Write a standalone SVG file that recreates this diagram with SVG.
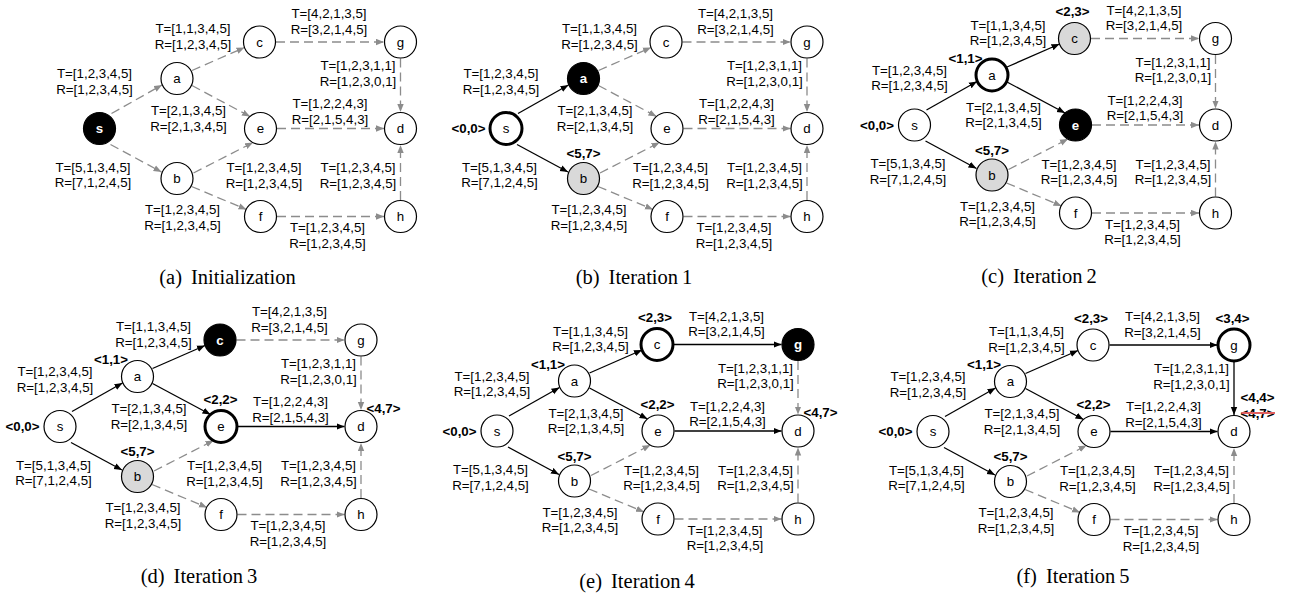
<svg xmlns="http://www.w3.org/2000/svg" width="1289" height="600" viewBox="0 0 1289 600">
<style>
  .lbl { font-family: "Liberation Sans", Arial, sans-serif; font-size: 13.3px; text-anchor: middle; fill: #000; }
  .val { font-family: "Liberation Sans", Arial, sans-serif; font-size: 13px; font-weight: bold; text-anchor: middle; fill: #000; }
  .cap { font-family: "Liberation Serif", "Times New Roman", serif; font-size: 20.5px; text-anchor: middle; fill: #000; }
  .nd circle { fill: #fff; stroke: #000; stroke-width: 1.2; }
  .nd text { font-family: "Liberation Sans", Arial, sans-serif; font-size: 13.3px; text-anchor: middle; fill: #000; }
  .nd.cur circle { stroke-width: 3; }
  .nd.done circle { fill: #000; }
  .nd.done text { fill: #fff; font-weight: bold; }
  .nd.cand circle { fill: #d9d9d9; }
  .dash { fill: none; stroke: #8c8c8c; stroke-width: 1.3; stroke-dasharray: 9 5; marker-end: url(#arrGray); }
  .solid { fill: none; stroke: #000; stroke-width: 1.3; marker-end: url(#arrBlack); }
  .strike { stroke: #e06060; stroke-width: 2; }
</style>
<defs>
  <marker id="arrGray" markerUnits="userSpaceOnUse" markerWidth="9" markerHeight="8" refX="8" refY="3.5" orient="auto">
    <path d="M0,0.3 L8,3.5 L0,6.7 z" fill="#8c8c8c"/>
  </marker>
  <marker id="arrBlack" markerUnits="userSpaceOnUse" markerWidth="9" markerHeight="8" refX="8" refY="3.5" orient="auto">
    <path d="M0,0.3 L8,3.5 L0,6.7 z" fill="#000"/>
  </marker>
</defs>

<!-- ===== (a) Initialization ===== -->
<g id="panel-a">
  <g id="a-connectors">
    <path class="dash" d="M111.5,113.5 L162,85"/>
    <path class="dash" d="M192,70.5 L244.5,47.5"/>
    <path class="dash" d="M192,85.5 L250,116.5"/>
    <path class="dash" d="M276,42 L384,42"/>
    <path class="dash" d="M400.5,58.5 L400.5,112"/>
    <path class="dash" d="M277,128.5 L384,128.5"/>
    <path class="dash" d="M110.5,144.5 L161.5,172"/>
    <path class="dash" d="M193.5,173 L253,142.5"/>
    <path class="dash" d="M191.5,186.5 L246.5,209.5"/>
    <path class="dash" d="M277,216.5 L384,216.5"/>
    <path class="dash" d="M400.5,200 L400.5,145"/>
    <text class="lbl" x="94.5" y="78">T=[1,2,3,4,5]<tspan x="94.5" dy="15.5">R=[1,2,3,4,5]</tspan></text>
    <text class="lbl" x="193" y="33">T=[1,1,3,4,5]<tspan x="193" dy="15.5">R=[1,2,3,4,5]</tspan></text>
    <text class="lbl" x="188.5" y="115">T=[2,1,3,4,5]<tspan x="188.5" dy="15.5">R=[2,1,3,4,5]</tspan></text>
    <text class="lbl" x="329" y="18">T=[4,2,1,3,5]<tspan x="329" dy="15.5">R=[3,2,1,4,5]</tspan></text>
    <text class="lbl" x="358" y="70">T=[1,2,3,1,1]<tspan x="358" dy="15.5">R=[1,2,3,0,1]</tspan></text>
    <text class="lbl" x="330" y="108">T=[1,2,2,4,3]<tspan x="330" dy="15.5">R=[2,1,5,4,3]</tspan></text>
    <text class="lbl" x="93" y="171.5">T=[5,1,3,4,5]<tspan x="93" dy="15.5">R=[7,1,2,4,5]</tspan></text>
    <text class="lbl" x="264" y="172">T=[1,2,3,4,5]<tspan x="264" dy="15.5">R=[1,2,3,4,5]</tspan></text>
    <text class="lbl" x="358" y="172">T=[1,2,3,4,5]<tspan x="358" dy="15.5">R=[1,2,3,4,5]</tspan></text>
    <text class="lbl" x="182.5" y="214">T=[1,2,3,4,5]<tspan x="182.5" dy="15.5">R=[1,2,3,4,5]</tspan></text>
    <text class="lbl" x="327.5" y="232">T=[1,2,3,4,5]<tspan x="327.5" dy="15.5">R=[1,2,3,4,5]</tspan></text>
  </g>
  <g id="a-s" class="nd done"><circle cx="99.5" cy="128.5" r="16"/><text x="99.5" y="133">s</text></g>
  <g id="a-a" class="nd"><circle cx="177" cy="78.5" r="16"/><text x="177" y="83">a</text></g>
  <g id="a-b" class="nd"><circle cx="177" cy="178.5" r="16"/><text x="177" y="183">b</text></g>
  <g id="a-c" class="nd"><circle cx="259.5" cy="42" r="16"/><text x="259.5" y="46.5">c</text></g>
  <g id="a-e" class="nd"><circle cx="260.5" cy="128.5" r="16"/><text x="260.5" y="133">e</text></g>
  <g id="a-f" class="nd"><circle cx="260.5" cy="216.5" r="16"/><text x="260.5" y="221">f</text></g>
  <g id="a-g" class="nd"><circle cx="400.5" cy="42" r="16"/><text x="400.5" y="46.5">g</text></g>
  <g id="a-d" class="nd"><circle cx="400.5" cy="128.5" r="16"/><text x="400.5" y="133">d</text></g>
  <g id="a-h" class="nd"><circle cx="400.5" cy="216.5" r="16"/><text x="400.5" y="221">h</text></g>
</g>
<text class="cap" x="227.5" y="284">(a)<tspan dx="9">Initialization</tspan></text>

<!-- ===== (b) Iteration 1 ===== -->
<g id="panel-b" transform="translate(406.5,0)">
  <g id="b-connectors">
    <path class="solid" d="M111.5,113.5 L162,85"/>
    <path class="dash" d="M192,70.5 L244.5,47.5"/>
    <path class="dash" d="M192,85.5 L250,116.5"/>
    <path class="dash" d="M276,42 L384,42"/>
    <path class="dash" d="M400.5,58.5 L400.5,112"/>
    <path class="dash" d="M277,128.5 L384,128.5"/>
    <path class="solid" d="M110.5,144.5 L161.5,172"/>
    <path class="dash" d="M193.5,173 L253,142.5"/>
    <path class="dash" d="M191.5,186.5 L246.5,209.5"/>
    <path class="dash" d="M277,216.5 L384,216.5"/>
    <path class="dash" d="M400.5,200 L400.5,145"/>
    <text class="lbl" x="94.5" y="78">T=[1,2,3,4,5]<tspan x="94.5" dy="15.5">R=[1,2,3,4,5]</tspan></text>
    <text class="lbl" x="193" y="33">T=[1,1,3,4,5]<tspan x="193" dy="15.5">R=[1,2,3,4,5]</tspan></text>
    <text class="lbl" x="188.5" y="115">T=[2,1,3,4,5]<tspan x="188.5" dy="15.5">R=[2,1,3,4,5]</tspan></text>
    <text class="lbl" x="329" y="18">T=[4,2,1,3,5]<tspan x="329" dy="15.5">R=[3,2,1,4,5]</tspan></text>
    <text class="lbl" x="358" y="70">T=[1,2,3,1,1]<tspan x="358" dy="15.5">R=[1,2,3,0,1]</tspan></text>
    <text class="lbl" x="330" y="108">T=[1,2,2,4,3]<tspan x="330" dy="15.5">R=[2,1,5,4,3]</tspan></text>
    <text class="lbl" x="93" y="171.5">T=[5,1,3,4,5]<tspan x="93" dy="15.5">R=[7,1,2,4,5]</tspan></text>
    <text class="lbl" x="264" y="172">T=[1,2,3,4,5]<tspan x="264" dy="15.5">R=[1,2,3,4,5]</tspan></text>
    <text class="lbl" x="358" y="172">T=[1,2,3,4,5]<tspan x="358" dy="15.5">R=[1,2,3,4,5]</tspan></text>
    <text class="lbl" x="182.5" y="214">T=[1,2,3,4,5]<tspan x="182.5" dy="15.5">R=[1,2,3,4,5]</tspan></text>
    <text class="lbl" x="327.5" y="232">T=[1,2,3,4,5]<tspan x="327.5" dy="15.5">R=[1,2,3,4,5]</tspan></text>
  </g>
  <g id="b-s" class="nd cur"><circle cx="99.5" cy="128.5" r="16"/><text x="99.5" y="133">s</text><text class="val" x="62" y="133">&lt;0,0&gt;</text></g>
  <g id="b-a" class="nd done"><circle cx="177" cy="78.5" r="16"/><text x="177" y="83">a</text><text class="val" x="150.5" y="66">&lt;1,1&gt;</text></g>
  <g id="b-b" class="nd cand"><circle cx="177" cy="178.5" r="16"/><text x="177" y="183">b</text><text class="val" x="177" y="158">&lt;5,7&gt;</text></g>
  <g id="b-c" class="nd"><circle cx="259.5" cy="42" r="16"/><text x="259.5" y="46.5">c</text></g>
  <g id="b-e" class="nd"><circle cx="260.5" cy="128.5" r="16"/><text x="260.5" y="133">e</text></g>
  <g id="b-f" class="nd"><circle cx="260.5" cy="216.5" r="16"/><text x="260.5" y="221">f</text></g>
  <g id="b-g" class="nd"><circle cx="400.5" cy="42" r="16"/><text x="400.5" y="46.5">g</text></g>
  <g id="b-d" class="nd"><circle cx="400.5" cy="128.5" r="16"/><text x="400.5" y="133">d</text></g>
  <g id="b-h" class="nd"><circle cx="400.5" cy="216.5" r="16"/><text x="400.5" y="221">h</text></g>
</g>
<text class="cap" x="634" y="284">(b)<tspan dx="9">Iteration</tspan><tspan dx="4">1</tspan></text>

<!-- ===== (c) Iteration 2 ===== -->
<g id="panel-c" transform="translate(815,-3.5)">
  <g id="c-connectors">
    <path class="solid" d="M111.5,113.5 L162,85"/>
    <path class="solid" d="M192,70.5 L244.5,47.5"/>
    <path class="solid" d="M192,85.5 L250,116.5"/>
    <path class="dash" d="M276,42 L384,42"/>
    <path class="dash" d="M400.5,58.5 L400.5,112"/>
    <path class="dash" d="M277,128.5 L384,128.5"/>
    <path class="solid" d="M110.5,144.5 L161.5,172"/>
    <path class="dash" d="M193.5,173 L253,142.5"/>
    <path class="dash" d="M191.5,186.5 L246.5,209.5"/>
    <path class="dash" d="M277,216.5 L384,216.5"/>
    <path class="dash" d="M400.5,200 L400.5,145"/>
    <text class="lbl" x="94.5" y="78">T=[1,2,3,4,5]<tspan x="94.5" dy="15.5">R=[1,2,3,4,5]</tspan></text>
    <text class="lbl" x="193" y="33">T=[1,1,3,4,5]<tspan x="193" dy="15.5">R=[1,2,3,4,5]</tspan></text>
    <text class="lbl" x="188.5" y="115">T=[2,1,3,4,5]<tspan x="188.5" dy="15.5">R=[2,1,3,4,5]</tspan></text>
    <text class="lbl" x="329" y="18">T=[4,2,1,3,5]<tspan x="329" dy="15.5">R=[3,2,1,4,5]</tspan></text>
    <text class="lbl" x="358" y="70">T=[1,2,3,1,1]<tspan x="358" dy="15.5">R=[1,2,3,0,1]</tspan></text>
    <text class="lbl" x="330" y="108">T=[1,2,2,4,3]<tspan x="330" dy="15.5">R=[2,1,5,4,3]</tspan></text>
    <text class="lbl" x="93" y="171.5">T=[5,1,3,4,5]<tspan x="93" dy="15.5">R=[7,1,2,4,5]</tspan></text>
    <text class="lbl" x="264" y="172">T=[1,2,3,4,5]<tspan x="264" dy="15.5">R=[1,2,3,4,5]</tspan></text>
    <text class="lbl" x="358" y="172">T=[1,2,3,4,5]<tspan x="358" dy="15.5">R=[1,2,3,4,5]</tspan></text>
    <text class="lbl" x="182.5" y="214">T=[1,2,3,4,5]<tspan x="182.5" dy="15.5">R=[1,2,3,4,5]</tspan></text>
    <text class="lbl" x="327.5" y="232">T=[1,2,3,4,5]<tspan x="327.5" dy="15.5">R=[1,2,3,4,5]</tspan></text>
  </g>
  <g id="c-s" class="nd"><circle cx="99.5" cy="128.5" r="16"/><text x="99.5" y="133">s</text><text class="val" x="62" y="133">&lt;0,0&gt;</text></g>
  <g id="c-a" class="nd cur"><circle cx="177" cy="78.5" r="16"/><text x="177" y="83">a</text><text class="val" x="150.5" y="66">&lt;1,1&gt;</text></g>
  <g id="c-b" class="nd cand"><circle cx="177" cy="178.5" r="16"/><text x="177" y="183">b</text><text class="val" x="177" y="158">&lt;5,7&gt;</text></g>
  <g id="c-c" class="nd cand"><circle cx="259.5" cy="42" r="16"/><text x="259.5" y="46.5">c</text><text class="val" x="257.5" y="19.5">&lt;2,3&gt;</text></g>
  <g id="c-e" class="nd done"><circle cx="260.5" cy="128.5" r="16"/><text x="260.5" y="133">e</text><text class="val" x="260" y="106">&lt;2,2&gt;</text></g>
  <g id="c-f" class="nd"><circle cx="260.5" cy="216.5" r="16"/><text x="260.5" y="221">f</text></g>
  <g id="c-g" class="nd"><circle cx="400.5" cy="42" r="16"/><text x="400.5" y="46.5">g</text></g>
  <g id="c-d" class="nd"><circle cx="400.5" cy="128.5" r="16"/><text x="400.5" y="133">d</text></g>
  <g id="c-h" class="nd"><circle cx="400.5" cy="216.5" r="16"/><text x="400.5" y="221">h</text></g>
</g>
<text class="cap" x="1039" y="283">(c)<tspan dx="9">Iteration</tspan><tspan dx="4">2</tspan></text>

<!-- ===== (d) Iteration 3 ===== -->
<g id="panel-d" transform="translate(-39.5,298)">
  <g id="d-connectors">
    <path class="solid" d="M111.5,113.5 L162,85"/>
    <path class="solid" d="M192,70.5 L244.5,47.5"/>
    <path class="solid" d="M192,85.5 L250,116.5"/>
    <path class="dash" d="M276,42 L384,42"/>
    <path class="dash" d="M400.5,58.5 L400.5,112"/>
    <path class="solid" d="M277,128.5 L384,128.5"/>
    <path class="solid" d="M110.5,144.5 L161.5,172"/>
    <path class="dash" d="M193.5,173 L253,142.5"/>
    <path class="dash" d="M191.5,186.5 L246.5,209.5"/>
    <path class="dash" d="M277,216.5 L384,216.5"/>
    <path class="dash" d="M400.5,200 L400.5,145"/>
    <text class="lbl" x="94.5" y="78">T=[1,2,3,4,5]<tspan x="94.5" dy="15.5">R=[1,2,3,4,5]</tspan></text>
    <text class="lbl" x="193" y="33">T=[1,1,3,4,5]<tspan x="193" dy="15.5">R=[1,2,3,4,5]</tspan></text>
    <text class="lbl" x="188.5" y="115">T=[2,1,3,4,5]<tspan x="188.5" dy="15.5">R=[2,1,3,4,5]</tspan></text>
    <text class="lbl" x="329" y="18">T=[4,2,1,3,5]<tspan x="329" dy="15.5">R=[3,2,1,4,5]</tspan></text>
    <text class="lbl" x="358" y="70">T=[1,2,3,1,1]<tspan x="358" dy="15.5">R=[1,2,3,0,1]</tspan></text>
    <text class="lbl" x="330" y="108">T=[1,2,2,4,3]<tspan x="330" dy="15.5">R=[2,1,5,4,3]</tspan></text>
    <text class="lbl" x="93" y="171.5">T=[5,1,3,4,5]<tspan x="93" dy="15.5">R=[7,1,2,4,5]</tspan></text>
    <text class="lbl" x="264" y="172">T=[1,2,3,4,5]<tspan x="264" dy="15.5">R=[1,2,3,4,5]</tspan></text>
    <text class="lbl" x="358" y="172">T=[1,2,3,4,5]<tspan x="358" dy="15.5">R=[1,2,3,4,5]</tspan></text>
    <text class="lbl" x="182.5" y="214">T=[1,2,3,4,5]<tspan x="182.5" dy="15.5">R=[1,2,3,4,5]</tspan></text>
    <text class="lbl" x="327.5" y="232">T=[1,2,3,4,5]<tspan x="327.5" dy="15.5">R=[1,2,3,4,5]</tspan></text>
  </g>
  <g id="d-s" class="nd"><circle cx="99.5" cy="128.5" r="16"/><text x="99.5" y="133">s</text><text class="val" x="62" y="133">&lt;0,0&gt;</text></g>
  <g id="d-a" class="nd"><circle cx="177" cy="78.5" r="16"/><text x="177" y="83">a</text><text class="val" x="150.5" y="66">&lt;1,1&gt;</text></g>
  <g id="d-b" class="nd cand"><circle cx="177" cy="178.5" r="16"/><text x="177" y="183">b</text><text class="val" x="177" y="158">&lt;5,7&gt;</text></g>
  <g id="d-c" class="nd done"><circle cx="259.5" cy="42" r="16"/><text x="259.5" y="46.5">c</text><text class="val" x="257.5" y="19.5">&lt;2,3&gt;</text></g>
  <g id="d-e" class="nd cur"><circle cx="260.5" cy="128.5" r="16"/><text x="260.5" y="133">e</text><text class="val" x="260" y="106">&lt;2,2&gt;</text></g>
  <g id="d-f" class="nd"><circle cx="260.5" cy="216.5" r="16"/><text x="260.5" y="221">f</text></g>
  <g id="d-g" class="nd"><circle cx="400.5" cy="42" r="16"/><text x="400.5" y="46.5">g</text></g>
  <g id="d-d" class="nd"><circle cx="400.5" cy="128.5" r="16"/><text x="400.5" y="133">d</text><text class="val" x="423" y="114.5">&lt;4,7&gt;</text></g>
  <g id="d-h" class="nd"><circle cx="400.5" cy="216.5" r="16"/><text x="400.5" y="221">h</text></g>
</g>
<text class="cap" x="199" y="583">(d)<tspan dx="9">Iteration</tspan><tspan dx="4">3</tspan></text>

<!-- ===== (e) Iteration 4 ===== -->
<g id="panel-e" transform="translate(397.5,302.5)">
  <g id="e-connectors">
    <path class="solid" d="M111.5,113.5 L162,85"/>
    <path class="solid" d="M192,70.5 L244.5,47.5"/>
    <path class="solid" d="M192,85.5 L250,116.5"/>
    <path class="solid" d="M276,42 L384,42"/>
    <path class="dash" d="M400.5,58.5 L400.5,112"/>
    <path class="solid" d="M277,128.5 L384,128.5"/>
    <path class="solid" d="M110.5,144.5 L161.5,172"/>
    <path class="dash" d="M193.5,173 L253,142.5"/>
    <path class="dash" d="M191.5,186.5 L246.5,209.5"/>
    <path class="dash" d="M277,216.5 L384,216.5"/>
    <path class="dash" d="M400.5,200 L400.5,145"/>
    <text class="lbl" x="94.5" y="78">T=[1,2,3,4,5]<tspan x="94.5" dy="15.5">R=[1,2,3,4,5]</tspan></text>
    <text class="lbl" x="193" y="33">T=[1,1,3,4,5]<tspan x="193" dy="15.5">R=[1,2,3,4,5]</tspan></text>
    <text class="lbl" x="188.5" y="115">T=[2,1,3,4,5]<tspan x="188.5" dy="15.5">R=[2,1,3,4,5]</tspan></text>
    <text class="lbl" x="329" y="18">T=[4,2,1,3,5]<tspan x="329" dy="15.5">R=[3,2,1,4,5]</tspan></text>
    <text class="lbl" x="358" y="70">T=[1,2,3,1,1]<tspan x="358" dy="15.5">R=[1,2,3,0,1]</tspan></text>
    <text class="lbl" x="330" y="108">T=[1,2,2,4,3]<tspan x="330" dy="15.5">R=[2,1,5,4,3]</tspan></text>
    <text class="lbl" x="93" y="171.5">T=[5,1,3,4,5]<tspan x="93" dy="15.5">R=[7,1,2,4,5]</tspan></text>
    <text class="lbl" x="264" y="172">T=[1,2,3,4,5]<tspan x="264" dy="15.5">R=[1,2,3,4,5]</tspan></text>
    <text class="lbl" x="358" y="172">T=[1,2,3,4,5]<tspan x="358" dy="15.5">R=[1,2,3,4,5]</tspan></text>
    <text class="lbl" x="182.5" y="214">T=[1,2,3,4,5]<tspan x="182.5" dy="15.5">R=[1,2,3,4,5]</tspan></text>
    <text class="lbl" x="327.5" y="232">T=[1,2,3,4,5]<tspan x="327.5" dy="15.5">R=[1,2,3,4,5]</tspan></text>
  </g>
  <g id="e-s" class="nd"><circle cx="99.5" cy="128.5" r="16"/><text x="99.5" y="133">s</text><text class="val" x="62" y="133">&lt;0,0&gt;</text></g>
  <g id="e-a" class="nd"><circle cx="177" cy="78.5" r="16"/><text x="177" y="83">a</text><text class="val" x="150.5" y="66">&lt;1,1&gt;</text></g>
  <g id="e-b" class="nd"><circle cx="177" cy="178.5" r="16"/><text x="177" y="183">b</text><text class="val" x="177" y="158">&lt;5,7&gt;</text></g>
  <g id="e-c" class="nd cur"><circle cx="259.5" cy="42" r="16"/><text x="259.5" y="46.5">c</text><text class="val" x="257.5" y="19.5">&lt;2,3&gt;</text></g>
  <g id="e-e" class="nd"><circle cx="260.5" cy="128.5" r="16"/><text x="260.5" y="133">e</text><text class="val" x="260" y="106">&lt;2,2&gt;</text></g>
  <g id="e-f" class="nd"><circle cx="260.5" cy="216.5" r="16"/><text x="260.5" y="221">f</text></g>
  <g id="e-g" class="nd done"><circle cx="400.5" cy="42" r="16"/><text x="400.5" y="46.5">g</text><text class="val" x="399" y="20">&lt;3,4&gt;</text></g>
  <g id="e-d" class="nd"><circle cx="400.5" cy="128.5" r="16"/><text x="400.5" y="133">d</text><text class="val" x="423" y="114.5">&lt;4,7&gt;</text></g>
  <g id="e-h" class="nd"><circle cx="400.5" cy="216.5" r="16"/><text x="400.5" y="221">h</text></g>
</g>
<text class="cap" x="637" y="588">(e)<tspan dx="9">Iteration</tspan><tspan dx="4">4</tspan></text>

<!-- ===== (f) Iteration 5 ===== -->
<g id="panel-f" transform="translate(833.5,303)">
  <g id="f-connectors">
    <path class="solid" d="M111.5,113.5 L162,85"/>
    <path class="solid" d="M192,70.5 L244.5,47.5"/>
    <path class="solid" d="M192,85.5 L250,116.5"/>
    <path class="solid" d="M276,42 L384,42"/>
    <path class="solid" d="M400.5,58.5 L400.5,112"/>
    <path class="solid" d="M277,128.5 L384,128.5"/>
    <path class="solid" d="M110.5,144.5 L161.5,172"/>
    <path class="dash" d="M193.5,173 L253,142.5"/>
    <path class="dash" d="M191.5,186.5 L246.5,209.5"/>
    <path class="dash" d="M277,216.5 L384,216.5"/>
    <path class="dash" d="M400.5,200 L400.5,145"/>
    <text class="lbl" x="94.5" y="78">T=[1,2,3,4,5]<tspan x="94.5" dy="15.5">R=[1,2,3,4,5]</tspan></text>
    <text class="lbl" x="193" y="33">T=[1,1,3,4,5]<tspan x="193" dy="15.5">R=[1,2,3,4,5]</tspan></text>
    <text class="lbl" x="188.5" y="115">T=[2,1,3,4,5]<tspan x="188.5" dy="15.5">R=[2,1,3,4,5]</tspan></text>
    <text class="lbl" x="329" y="18">T=[4,2,1,3,5]<tspan x="329" dy="15.5">R=[3,2,1,4,5]</tspan></text>
    <text class="lbl" x="358" y="70">T=[1,2,3,1,1]<tspan x="358" dy="15.5">R=[1,2,3,0,1]</tspan></text>
    <text class="lbl" x="330" y="108">T=[1,2,2,4,3]<tspan x="330" dy="15.5">R=[2,1,5,4,3]</tspan></text>
    <text class="lbl" x="93" y="171.5">T=[5,1,3,4,5]<tspan x="93" dy="15.5">R=[7,1,2,4,5]</tspan></text>
    <text class="lbl" x="264" y="172">T=[1,2,3,4,5]<tspan x="264" dy="15.5">R=[1,2,3,4,5]</tspan></text>
    <text class="lbl" x="358" y="172">T=[1,2,3,4,5]<tspan x="358" dy="15.5">R=[1,2,3,4,5]</tspan></text>
    <text class="lbl" x="182.5" y="214">T=[1,2,3,4,5]<tspan x="182.5" dy="15.5">R=[1,2,3,4,5]</tspan></text>
    <text class="lbl" x="327.5" y="232">T=[1,2,3,4,5]<tspan x="327.5" dy="15.5">R=[1,2,3,4,5]</tspan></text>
  </g>
  <g id="f-s" class="nd"><circle cx="99.5" cy="128.5" r="16"/><text x="99.5" y="133">s</text><text class="val" x="62" y="133">&lt;0,0&gt;</text></g>
  <g id="f-a" class="nd"><circle cx="177" cy="78.5" r="16"/><text x="177" y="83">a</text><text class="val" x="150.5" y="66">&lt;1,1&gt;</text></g>
  <g id="f-b" class="nd"><circle cx="177" cy="178.5" r="16"/><text x="177" y="183">b</text><text class="val" x="177" y="158">&lt;5,7&gt;</text></g>
  <g id="f-c" class="nd"><circle cx="259.5" cy="42" r="16"/><text x="259.5" y="46.5">c</text><text class="val" x="257.5" y="19.5">&lt;2,3&gt;</text></g>
  <g id="f-e" class="nd"><circle cx="260.5" cy="128.5" r="16"/><text x="260.5" y="133">e</text><text class="val" x="260" y="106">&lt;2,2&gt;</text></g>
  <g id="f-f" class="nd"><circle cx="260.5" cy="216.5" r="16"/><text x="260.5" y="221">f</text></g>
  <g id="f-g" class="nd cur"><circle cx="400.5" cy="42" r="16"/><text x="400.5" y="46.5">g</text><text class="val" x="399" y="20">&lt;3,4&gt;</text></g>
  <g id="f-d" class="nd"><circle cx="400.5" cy="128.5" r="16"/><text x="400.5" y="133">d</text><text class="val" x="424" y="99">&lt;4,4&gt;</text><text class="val" x="424" y="114.5">&lt;4,7&gt;</text><line class="strike" x1="408" y1="110" x2="441.5" y2="110"/></g>
  <g id="f-h" class="nd"><circle cx="400.5" cy="216.5" r="16"/><text x="400.5" y="221">h</text></g>
</g>
<text class="cap" x="1073" y="583">(f)<tspan dx="9">Iteration</tspan><tspan dx="4">5</tspan></text>
</svg>
